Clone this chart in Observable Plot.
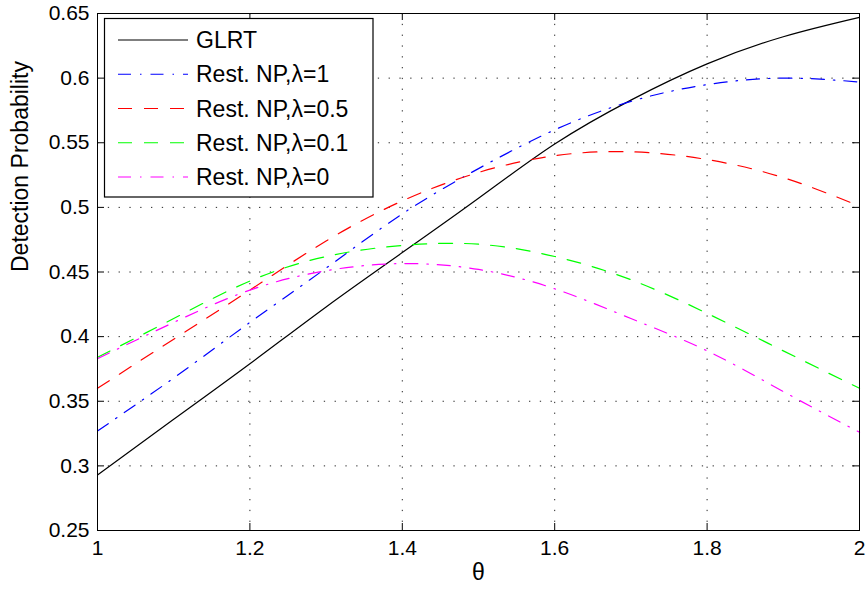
<!DOCTYPE html>
<html>
<head>
<meta charset="utf-8">
<script src="https://cdn.jsdelivr.net/npm/d3@7"></script>
<script src="https://cdn.jsdelivr.net/npm/@observablehq/plot@0.6"></script>
<style>
  html, body { margin: 0; padding: 0; background: #fff; }
  #chart svg { display: block; }
</style>
</head>
<body>
<div id="chart"></div>
<script>
const theta = [1.0, 1.1, 1.2, 1.3, 1.4, 1.5, 1.6, 1.7, 1.8, 1.9, 2.0];
const glrt   = [0.293, 0.336, 0.379, 0.423, 0.465, 0.507, 0.549, 0.583, 0.611, 0.632, 0.647];
const np1    = [0.327, 0.368, 0.411, 0.453, 0.495, 0.530, 0.560, 0.582, 0.595, 0.600, 0.597];
const np05   = [0.360, 0.398, 0.436, 0.474, 0.505, 0.527, 0.540, 0.543, 0.537, 0.523, 0.501];
const np01   = [0.384, 0.414, 0.443, 0.462, 0.4705, 0.4715, 0.462, 0.444, 0.418, 0.389, 0.360];
const np0    = [0.383, 0.411, 0.436, 0.451, 0.4565, 0.452, 0.437, 0.414, 0.389, 0.3575, 0.326];

const seriesNames = ["GLRT", "Rest. NP,λ=1", "Rest. NP,λ=0.5", "Rest. NP,λ=0.1", "Rest. NP,λ=0"];
const seriesValues = [glrt, np1, np05, np01, np0];
const seriesColors = ["#000000", "#0000ff", "#ff0000", "#00ff00", "#ff00ff"];
const seriesDash = [null, "13,9,1.5,9", "14,12", "14,12", "13,9,1.5,9"];

const xTicks = [1, 1.2, 1.4, 1.6, 1.8, 2];
const yTicks = [0.25, 0.3, 0.35, 0.4, 0.45, 0.5, 0.55, 0.6, 0.65];
const xLabel = "θ";
const yLabel = "Detection Probability";

const FONT = "Arial, 'Liberation Sans', Helvetica, sans-serif";
const W = 868, H = 594;
const mL = 97, mR = 9, mT = 13, mB = 64;
const plotW = W - mL - mR, plotH = H - mT - mB;
const tickLen = 7;

const fmt = d => String(+d.toFixed(2));

const lineMarks = seriesNames.map((name, i) =>
  Plot.line(theta.map((t, j) => ({t, v: seriesValues[i][j]})), {
    x: "t", y: "v",
    stroke: seriesColors[i],
    strokeWidth: 1.2,
    strokeDasharray: seriesDash[i],
    curve: "natural"
  })
);

const chart = Plot.plot({
  width: W, height: H,
  marginLeft: mL, marginRight: mR, marginTop: mT, marginBottom: mB,
  style: {fontFamily: FONT, fontSize: "21px", background: "#fff", color: "#000"},
  x: {domain: [1, 2], ticks: xTicks, tickFormat: fmt, tickSize: 0, tickPadding: 10, label: null},
  y: {domain: [0.25, 0.65], ticks: yTicks, tickFormat: fmt, tickSize: 0, tickPadding: 8, label: null},
  marks: [
    Plot.ruleX(xTicks, {x: d => d, stroke: "#000", strokeWidth: 1, strokeDasharray: "1.3,9.5", strokeOpacity: 0.85}),
    Plot.ruleY(yTicks, {y: d => d, stroke: "#000", strokeWidth: 1, strokeDasharray: "1.3,9.5", strokeOpacity: 0.85}),
    ...lineMarks,
    Plot.ruleX(xTicks, {x: d => d, stroke: "#000", insetTop: plotH - tickLen}),
    Plot.ruleX(xTicks, {x: d => d, stroke: "#000", insetBottom: plotH - tickLen}),
    Plot.ruleY(yTicks, {y: d => d, stroke: "#000", insetRight: plotW - tickLen}),
    Plot.ruleY(yTicks, {y: d => d, stroke: "#000", insetLeft: plotW - tickLen}),
    Plot.frame({stroke: "#000", strokeWidth: 1}),
    Plot.text([xLabel], {text: d => d, frameAnchor: "bottom", dy: 49, fontSize: 23, fill: "#000"}),
    Plot.text([yLabel], {text: d => d, frameAnchor: "left", dx: -77, rotate: -90, fontSize: 23, fill: "#000"})
  ]
});

document.getElementById("chart").appendChild(chart);

// Legend (drawn into the same SVG)
const svg = d3.select(chart);
const lg = svg.append("g").attr("class", "legend").attr("text-anchor", "start");
const box = {x: 104.5, y: 18.5, w: 268.5, h: 178.5};
lg.append("rect")
  .attr("x", box.x).attr("y", box.y).attr("width", box.w).attr("height", box.h)
  .attr("fill", "#fff").attr("stroke", "#000").attr("stroke-width", 1.2);
const rowY0 = 40, rowStep = 34.25;
seriesNames.forEach((name, i) => {
  const y = rowY0 + i * rowStep;
  lg.append("line")
    .attr("x1", 118).attr("x2", 188).attr("y1", y).attr("y2", y)
    .attr("stroke", seriesColors[i]).attr("stroke-width", 1.2)
    .attr("stroke-dasharray", seriesDash[i]);
  lg.append("text")
    .attr("x", 196).attr("y", y).attr("dy", "0.35em")
    .attr("text-anchor", "start")
    .attr("font-family", FONT).attr("font-size", 23).attr("fill", "#000")
    .text(name);
});
</script>
</body>
</html>
